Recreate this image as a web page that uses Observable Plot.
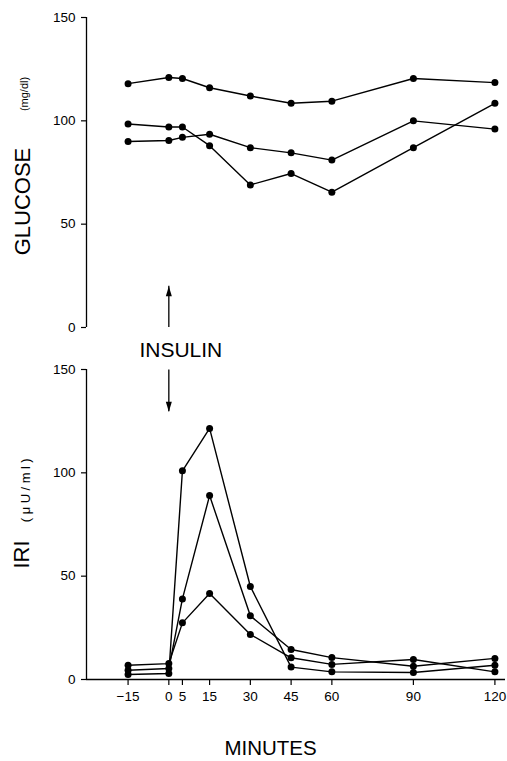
<!DOCTYPE html>
<html>
<head>
<meta charset="utf-8">
<script src="https://cdn.jsdelivr.net/npm/d3@7"></script>
<script src="https://cdn.jsdelivr.net/npm/@observablehq/plot@0.6"></script>
<style>
  body { margin: 0; background: #fff; }
</style>
</head>
<body>
<div id="chart"></div>
<script>
// ---- data ----
const minutes = [-15, 0, 5, 15, 30, 45, 60, 90, 120];
const xTicks = [-15, 0, 5, 15, 30, 45, 60, 90, 120];
const yTicks = [0, 50, 100, 150];
const panels = ["GLUCOSE", "IRI"];

// Glucose (mg/dl)
const glucose1 = [118, 121, 120.5, 116, 112, 108.5, 109.5, 120.5, 118.5];
const glucose2 = [98.5, 97, 97, 88, 69, 74.5, 65.5, 87, 108.5];
const glucose3 = [90, 90.5, 92, 93.5, 87, 84.5, 81, 100, 96];

// IRI (µU/ml)
const iri1 = [2.4, 2.9, 101, 121.5, 45, 6, 3.7, 3.4, 6.9];
const iri2 = [4.5, 5.3, 39, 89, 30.8, 14.5, 10.6, 6.4, 10.2];
const iri3 = [6.9, 7.7, 27.4, 41.6, 21.8, 10.5, 7.3, 9.7, 3.7];

// insulin injection marker (time 0), arrow extents in value units
const insulinTime = 0;
const arrowShafts = [
  {panel: "GLUCOSE", t: insulinTime, y1: 0, y2: 20},
  {panel: "IRI", t: insulinTime, y1: 149.7, y2: 129.5}
];
const arrowHeadsUp = [{panel: "GLUCOSE", t: insulinTime, y: 20}];
const arrowHeadsDown = [{panel: "IRI", t: insulinTime, y: 129.5}];

// ---- build table ----
const rows = [];
function add(panel, series, vals) {
  vals.forEach((v, i) => rows.push({panel, series, t: minutes[i], v}));
}
add("GLUCOSE", "g1", glucose1);
add("GLUCOSE", "g2", glucose2);
add("GLUCOSE", "g3", glucose3);
add("IRI", "i1", iri1);
add("IRI", "i2", iri2);
add("IRI", "i3", iri3);

const xDomain = [-30.3, 123.9];
const yDomain = [0, 150];

const headSymbol = {
  draw(ctx) {
    ctx.moveTo(0, 0);
    ctx.lineTo(3, 10);
    ctx.lineTo(-3, 10);
    ctx.closePath();
  }
};

const tickFont = "'Liberation Sans Narrow', 'Liberation Sans', Arial, sans-serif";
const mainFont = "'Liberation Sans', Arial, Helvetica, sans-serif";

const chart = Plot.plot({
  width: 507,
  height: 761,
  marginLeft: 86,
  marginRight: 2,
  marginTop: 17,
  marginBottom: 82,
  style: {background: "#fff", color: "#000", fontFamily: mainFont, overflow: "visible"},
  x: {domain: xDomain},
  y: {domain: yDomain},
  fy: {domain: panels, paddingInner: 42 / 352, paddingOuter: 0, axis: null, label: null},
  marks: [
    // axis lines
    Plot.ruleX(panels.map(p => ({panel: p})), {x: () => xDomain[0], fy: "panel", stroke: "#000", strokeWidth: 1.3}),
    Plot.ruleY([{panel: "IRI"}], {y: () => 0, fy: "panel", stroke: "#000", strokeWidth: 1.3}),
    Plot.axisY({ticks: yTicks, tickSize: 5, tickPadding: 6, fontSize: 13.5, fontFamily: tickFont, label: null, strokeWidth: 1.2}),
    Plot.axisX({ticks: xTicks, tickSize: 6, tickPadding: 6, fontSize: 13.5, fontFamily: tickFont, label: null, strokeWidth: 1.2}),
    // data
    Plot.line(rows, {x: "t", y: "v", z: "series", fy: "panel", stroke: "#000", strokeWidth: 1.4}),
    Plot.dot(rows, {x: "t", y: "v", fy: "panel", r: 3.5, fill: "#000", stroke: "none"}),
    // insulin arrows
    Plot.ruleX(arrowShafts, {x: "t", y1: "y1", y2: "y2", fy: "panel", stroke: "#000", strokeWidth: 1.3}),
    Plot.dot(arrowHeadsUp, {x: "t", y: "y", fy: "panel", symbol: headSymbol, fill: "#000", stroke: "none"}),
    Plot.dot(arrowHeadsDown, {x: "t", y: "y", fy: "panel", symbol: headSymbol, rotate: 180, fill: "#000", stroke: "none"}),
    Plot.text([{panel: "GLUCOSE", t: insulinTime}], {x: "t", fy: "panel", frameAnchor: "bottom", lineAnchor: "middle", textAnchor: "middle", text: () => "INSULIN", dx: 12, dy: 23, fontSize: 21, fill: "#000"}),
    // y titles
    Plot.text([{panel: "GLUCOSE"}], {fy: "panel", frameAnchor: "left", textAnchor: "middle", lineAnchor: "middle", text: () => "GLUCOSE", rotate: -90, dx: -63.5, dy: 29, fontSize: 22, fill: "#000"}),
    Plot.text([{panel: "GLUCOSE"}], {fy: "panel", frameAnchor: "left", textAnchor: "middle", lineAnchor: "middle", text: () => "(mg/dl)", rotate: -90, dx: -62, dy: -78.5, fontSize: 11, fill: "#000"}),
    Plot.text([{panel: "IRI"}], {fy: "panel", frameAnchor: "left", textAnchor: "middle", lineAnchor: "middle", text: () => "IRI", rotate: -90, dx: -65, dy: 30, fontSize: 22, fill: "#000"}),
    Plot.text([{panel: "IRI"}], {fy: "panel", frameAnchor: "left", textAnchor: "middle", lineAnchor: "middle", text: () => "(\u03BCU/ml)", rotate: -90, dx: -61, dy: -36, fontSize: 13, fill: "#000"}),
    // x title
    Plot.text([{panel: "IRI"}], {fy: "panel", frameAnchor: "bottom", textAnchor: "middle", lineAnchor: "middle", text: () => "MINUTES", dx: -25.5, dy: 69, fontSize: 20.5, fill: "#000"})
  ]
});
document.getElementById("chart").append(chart);
// spaced-out unit label as in the reference
d3.select(chart).selectAll("text")
  .filter(function () { return this.textContent === "(\u03BCU/ml)"; })
  .style("letter-spacing", "3.5px");
</script>
</body>
</html>
